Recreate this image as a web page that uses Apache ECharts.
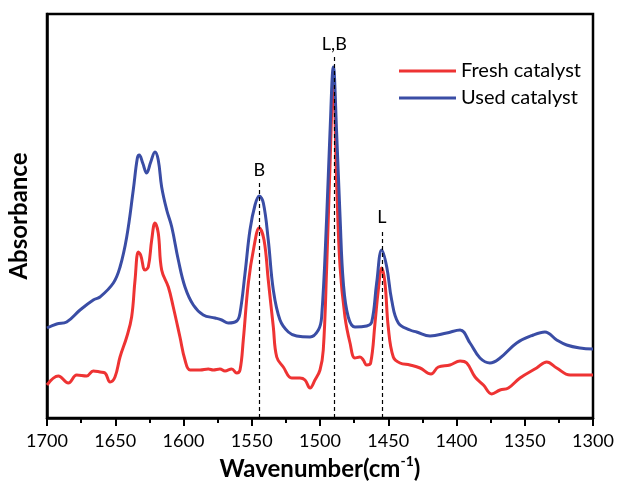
<!DOCTYPE html>
<html>
<head>
<meta charset="utf-8">
<script src="https://cdn.jsdelivr.net/npm/echarts@6/dist/echarts.min.js"></script>
<style>
html,body{margin:0;padding:0;background:#fff;}
#chart{width:617px;height:484px;}
</style>
</head>
<body>
<div id="chart"></div>
<script>
// Wavenumber (cm-1), absorbance (arbitrary units)
const freshWave = [1700,1691.7,1684.4,1678.2,1670.9,1666.1,1661.2,1657.5,1653.8,1650.2,1646.5,1641.6,1638.0,1635.5,1633.1,1631.4,1628.2,1625.8,1623.3,1620.9,1618.5,1616.0,1611.1,1607.5,1602.6,1598.9,1595.2,1587.9,1581.8,1578.2,1573.3,1569.6,1564.7,1561.0,1558.6,1556.2,1552.5,1548.4,1544.5,1541.0,1537.9,1534.2,1531.7,1526.9,1520.7,1514.7,1511.0,1507.3,1503.7,1500.0,1497.6,1495.1,1492.7,1490.2,1487.8,1485.3,1481.7,1478.0,1474.4,1470.7,1468.3,1465.8,1462.9,1459.7,1457.3,1454.8,1452.4,1450.0,1446.3,1441.4,1434.1,1426.7,1418.7,1413.3,1404.8,1397.4,1392.5,1386.4,1380.3,1374.2,1368.1,1362.0,1353.5,1341.3,1333.9,1326.6,1316.8,1300];
const freshAbs  = [33,42,35,43,42,47,46,45,36,41,61,81,101,138,166,163,148,151,178,195,185,148,131,111,81,58,48,48,49,48,49,47,49,45,48,78,135,171,190,178,138,91,61,51,40,40,38,30,38,48,68,151,251,338,235,151,101,75,60,61,58,53,55,95,128,150,135,91,61,55,53,50,44,51,53,57,55,41,33,24,28,30,40,50,56,50,43,43];

const usedWave = [1700,1692.9,1685.6,1675.8,1666.1,1661.2,1651.4,1646.5,1641.6,1636.8,1633.8,1632.4,1629.9,1627.0,1624.0,1620.9,1618.5,1616.0,1612.3,1608.6,1603.8,1598.9,1592.8,1585.5,1576.9,1572.0,1567.2,1561.0,1558.6,1554.9,1551.3,1547.6,1544.5,1541.5,1537.9,1534.2,1529.3,1523.2,1517.1,1507.3,1501.2,1498.8,1495.1,1492.7,1490.2,1487.8,1485.3,1482.9,1479.3,1474.4,1465.8,1462.1,1458.5,1454.8,1451.1,1447.5,1442.6,1434.1,1429.2,1419.4,1407.2,1397.4,1390.1,1382.8,1375.5,1368.1,1355.9,1343.7,1335.2,1326.6,1319.3,1309.5,1300];
const usedAbs  = [90,94,96,108,118,121,135,151,181,228,260,263,255,245,256,266,258,231,208,191,158,131,113,103,100,98,95,97,105,145,188,213,222,215,178,128,98,86,82,81,88,101,201,285,351,285,201,135,101,91,92,96,135,168,151,118,95,88,86,82,85,88,75,60,55,60,75,83,86,78,73,70,69];

// Peak assignments
const annoWave  = [1544.5, 1489.5, 1454.6];
const annoTop   = [235, 361, 188];
const annoLabel = ['B', 'L,B', 'L'];

const seriesNames = ['Fresh catalyst', 'Used catalyst'];

const zip = (a, b) => a.map((v, i) => [v, b[i]]);

const markData = annoWave.map((w, i) => [
  { coord: [w, 0], name: annoLabel[i] },
  { coord: [w, annoTop[i]], name: annoLabel[i] }
]);

const chart = echarts.init(document.getElementById('chart'));
chart.setOption({
  animation: false,
  textStyle: { fontFamily: 'Lato' },
  grid: { left: 47, right: 24, top: 14, bottom: 66, outerBoundsMode: 'none', containLabel: false,
    show: true, borderColor: '#000', borderWidth: 2.5, backgroundColor: 'transparent' },
  legend: {
    data: seriesNames,
    orient: 'vertical',
    left: 394, top: 56,
    icon: 'rect', itemWidth: 57, itemHeight: 3, itemGap: 7,
    textStyle: { fontSize: 20, color: '#000', fontFamily: 'Lato', lineHeight: 20 }
  },
  xAxis: {
    type: 'value', min: 1300, max: 1700, interval: 50, inverse: true,
    name: 'Wavenumber(cm{sup|-1})',
    nameLocation: 'middle', nameGap: 36,
    nameTextStyle: {
      fontSize: 24, fontWeight: 'bold', color: '#000', fontFamily: 'Lato', lineHeight: 28,
      rich: { sup: { fontSize: 14, fontWeight: 'bold', color: '#000', fontFamily: 'Lato', verticalAlign: 'top', lineHeight: 14 } }
    },
    axisLine: { lineStyle: { color: '#000', width: 2.5 } },
    axisTick: { show: true, length: 8, inside: false, lineStyle: { color: '#000', width: 2 } },
    minorTick: { show: true, splitNumber: 2, length: 5, lineStyle: { color: '#000', width: 2 } },
    axisLabel: { fontSize: 18, color: '#000', margin: 14, fontFamily: 'Lato',
      formatter: v => String(v) },
    splitLine: { show: false }
  },
  yAxis: {
    type: 'value', min: 0, max: 404,
    name: 'Absorbance', nameLocation: 'middle', nameGap: 16,
    nameTextStyle: { fontSize: 24, fontWeight: 'bold', color: '#000', fontFamily: 'Lato' },
    axisLine: { show: true, lineStyle: { color: '#000', width: 2.5 } },
    axisTick: { show: false },
    axisLabel: { show: false },
    splitLine: { show: false }
  },
  series: [
    {
      name: seriesNames[0], type: 'line', data: zip(freshWave, freshAbs),
      showSymbol: false, smooth: 0.4,
      lineStyle: { color: '#ee3333', width: 3, join: 'round' }, itemStyle: { color: '#ee3333' }, z: 2
    },
    {
      name: seriesNames[1], type: 'line', data: zip(usedWave, usedAbs),
      showSymbol: false, smooth: 0.4,
      lineStyle: { color: '#3a4da5', width: 3, join: 'round' }, itemStyle: { color: '#3a4da5' }, z: 3,
      markLine: {
        silent: true, symbol: ['none', 'none'], animation: false,
        lineStyle: { color: '#000', type: [4, 3], width: 1.2 },
        label: { show: true, position: 'end', distance: 4, formatter: p => p.name,
          fontSize: 18, color: '#000', fontFamily: 'Lato' },
        emphasis: { disabled: true },
        data: markData
      }
    }
  ]
});
</script>
</body>
</html>
